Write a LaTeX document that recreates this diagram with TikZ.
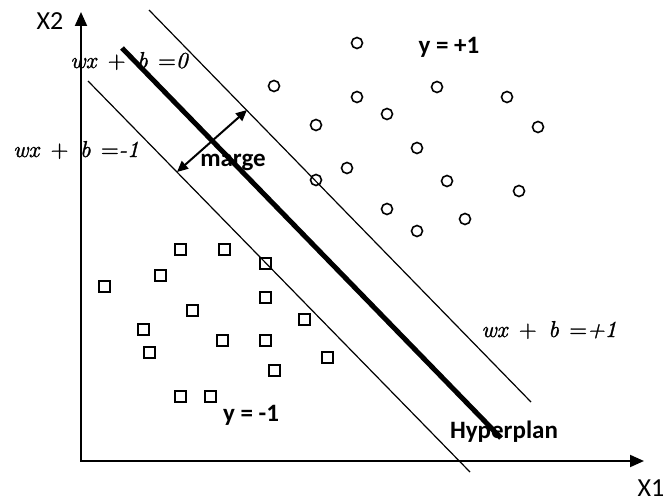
\documentclass[tikz,border=0pt]{standalone}
\usepackage{fontspec}
\setsansfont{Carlito}
\newfontface\eqit{lmroman10-italic.otf}[FakeBold=1.2]
\newfontface\equp{lmroman10-regular.otf}[FakeBold=1.2]
\newcommand{\eqtext}[1]{{\eqit wx}\hspace{0.5em}{\equp +}\hspace{0.5em}{\eqit b}\hspace{0.45em}{\equp =}{\eqit #1}}
\usetikzlibrary{arrows.meta}
\begin{document}
\begin{tikzpicture}[x=1pt,y=-1pt,
  axis/.style={line width=2pt,-{Triangle[length=14pt,width=12pt]}},
  margin/.style={line width=1.2pt},
  hyper/.style={line width=5pt},
  pospt/.style={circle,draw,line width=1.6pt,minimum size=11pt,inner sep=0pt},
  negpt/.style={rectangle,draw,line width=2pt,minimum size=11pt,inner sep=0pt},
  lbl/.style={font=\sffamily\bfseries\fontsize{25}{28}\selectfont,inner sep=0pt},
  axlbl/.style={font=\sffamily\fontsize{26}{29}\selectfont,inner sep=0pt},
  eq/.style={font=\fontsize{23}{26}\selectfont,inner sep=0pt},
  marrow/.style={line width=2pt,{Triangle[length=11pt,width=10pt]}-{Triangle[length=11pt,width=10pt]}}]
\useasboundingbox (0,0) rectangle (667,503);
% axes
\coordinate (O) at (81,461);
\coordinate (Ytop) at (81,12);
\coordinate (Xend) at (644,461);
\draw[axis] (O) -- (Ytop);
\draw[axis] ([xshift=-1pt]O) -- (Xend);
\node[axlbl] (x2) at (50,21) {X2};
\node[axlbl] (x1) at (651,488) {X1};
% lines
\coordinate (u1) at (149,10);  \coordinate (u2) at (531,402);
\coordinate (h1) at (122,48);  \coordinate (h2) at (501,438);
\coordinate (l1) at (88,81);   \coordinate (l2) at (470,472);
\node[eq] (e0) at (129,61) {\eqtext{0}};
\node[eq] (em) at (76,150) {\eqtext{-1}};
\node[eq] (ep) at (549,330) {\eqtext{+1}};
\draw[margin] (u1) -- (u2);
\draw[margin] (l1) -- (l2);
\draw[hyper] (h1) -- (h2);
% margin arrow
\coordinate (ma) at (247,110);
\coordinate (mb) at (177,172);
\draw[marrow] (ma) -- (mb);
\node[lbl] (marge) at (233,162) {marge};
\node[lbl] (yp) at (449,47) {y = +1};
\node[lbl] (ym) at (251,415) {y = -1};
\node[lbl] (hyp) at (504,432) {Hyperplan};
% positive points
\foreach \i/\p in {1/{357,43},2/{437,87},3/{357,97},4/{507,97},5/{387,114},6/{538,127},7/{417,148},8/{347,168},9/{447,181},10/{519,191},11/{387,209},12/{465,219},13/{417,231},14/{274,86},15/{316,125},16/{316,180}}
  \node[pospt] (c\i) at (\p) {};
% negative points
\foreach \i/\p in {1/{180,249},2/{224,249},3/{265,263},4/{160,275},5/{104,286},6/{265,297},7/{192,310},8/{304,319},9/{143,329},10/{222,340},11/{265,340},12/{149,352},13/{327,357},14/{274,370},15/{180,396},16/{210,396}}
  \node[negpt] (s\i) at (\p) {};
\end{tikzpicture}
\end{document}
